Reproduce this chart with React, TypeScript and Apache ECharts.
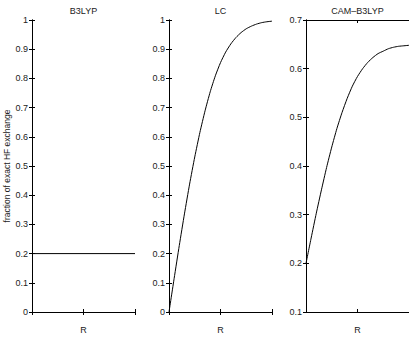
import React, { useEffect, useRef } from "react";
import * as echarts from "echarts";

const panelTitles = ["B3LYP", "LC", "CAM–B3LYP"];
const xLabel = "R";
const yLabel = "fraction of exact HF exchange";

const rValues = [0, 0.05, 0.1, 0.15, 0.2, 0.25, 0.3, 0.35, 0.4, 0.45, 0.5, 0.55, 0.6, 0.65, 0.7, 0.75, 0.8, 0.85, 0.9, 0.95, 1.0];
const b3lypR = [0, 1];
const b3lypValues = [0.2, 0.2];
const lcValues = [0, 0.115, 0.228, 0.336, 0.438, 0.531, 0.615, 0.689, 0.754, 0.809, 0.854, 0.89, 0.918, 0.94, 0.957, 0.97, 0.979, 0.986, 0.991, 0.994, 0.996];
const camValues = [0.2, 0.252, 0.303, 0.351, 0.397, 0.439, 0.477, 0.51, 0.539, 0.564, 0.584, 0.6, 0.613, 0.623, 0.631, 0.636, 0.641, 0.644, 0.646, 0.647, 0.648];

const yRanges = [
  { min: 0, max: 1, interval: 0.1 },
  { min: 0, max: 1, interval: 0.1 },
  { min: 0.1, max: 0.7, interval: 0.1 },
];

const FONT = "Liberation Sans, Arial, sans-serif";

export default function App() {
  const ref = useRef<HTMLDivElement>(null);
  useEffect(() => {
    if (!ref.current) return;
    const chart = echarts.init(ref.current, null, { renderer: "svg" });
    const lefts = [32, 169, 306];
    const grids = lefts.map((l) => ({ left: l, top: 20, width: 103, height: 298, containLabel: false }));
    const axisLine = { show: true, lineStyle: { color: "#000", width: 1 } };
    const tick = { show: true, inside: true, length: 3, lineStyle: { color: "#000" } };
    const xAxes: any[] = [];
    const yAxes: any[] = [];
    lefts.forEach((_, i) => {
      xAxes.push({
        type: "value", gridIndex: i, position: "bottom", min: 0, max: 1, interval: 0.5,
        axisLine, axisTick: tick, axisLabel: { show: false }, splitLine: { show: false },
        name: xLabel, nameLocation: "middle", nameGap: 13,
        nameTextStyle: { fontFamily: FONT, fontSize: 9, color: "#222" },
      });
      xAxes.push({
        type: "value", gridIndex: i, position: "top", min: 0, max: 1, interval: 0.5,
        axisLine, axisTick: tick, axisLabel: { show: false }, splitLine: { show: false },
      });
      const r = yRanges[i];
      const yl: any = {
        type: "value", gridIndex: i, position: "left", min: r.min, max: r.max, interval: r.interval,
        axisLine, axisTick: tick,
        axisLabel: { show: true, margin: 4, fontFamily: FONT, fontSize: 9, color: "#222" },
        splitLine: { show: false },
      };
      if (i === 0) {
        yl.name = yLabel;
        yl.nameLocation = "middle";
        yl.nameGap = 19;
        yl.nameTextStyle = { fontFamily: FONT, fontSize: 8.5, color: "#222" };
      }
      yAxes.push(yl);
      yAxes.push({
        type: "value", gridIndex: i, position: "right", min: r.min, max: r.max, interval: r.interval,
        axisLine, axisTick: tick, axisLabel: { show: false }, splitLine: { show: false },
      });
    });
    const seriesData = [
      b3lypR.map((x, k) => [x, b3lypValues[k]]),
      rValues.map((x, k) => [x, lcValues[k]]),
      rValues.map((x, k) => [x, camValues[k]]),
    ];
    const series = seriesData.map((d, i) => ({
      type: "line", xAxisIndex: i * 2, yAxisIndex: i * 2, data: d, showSymbol: false,
      smooth: i === 0 ? false : 0.2, lineStyle: { color: "#000", width: 1 }, silent: true,
    }));
    chart.setOption({
      animation: false,
      backgroundColor: "#fff",
      title: panelTitles.map((t, i) => ({
        text: t, left: lefts[i] + 51.5, top: 6, padding: 0, textAlign: "center",
        textStyle: { fontFamily: FONT, fontSize: 9, fontWeight: "normal", color: "#222" },
      })),
      grid: grids,
      xAxis: xAxes,
      yAxis: yAxes,
      series,
    });
    return () => chart.dispose();
  }, []);
  return <div ref={ref} style={{ position: "absolute", left: 0, top: 0, width: 409, height: 339 }} />;
}
